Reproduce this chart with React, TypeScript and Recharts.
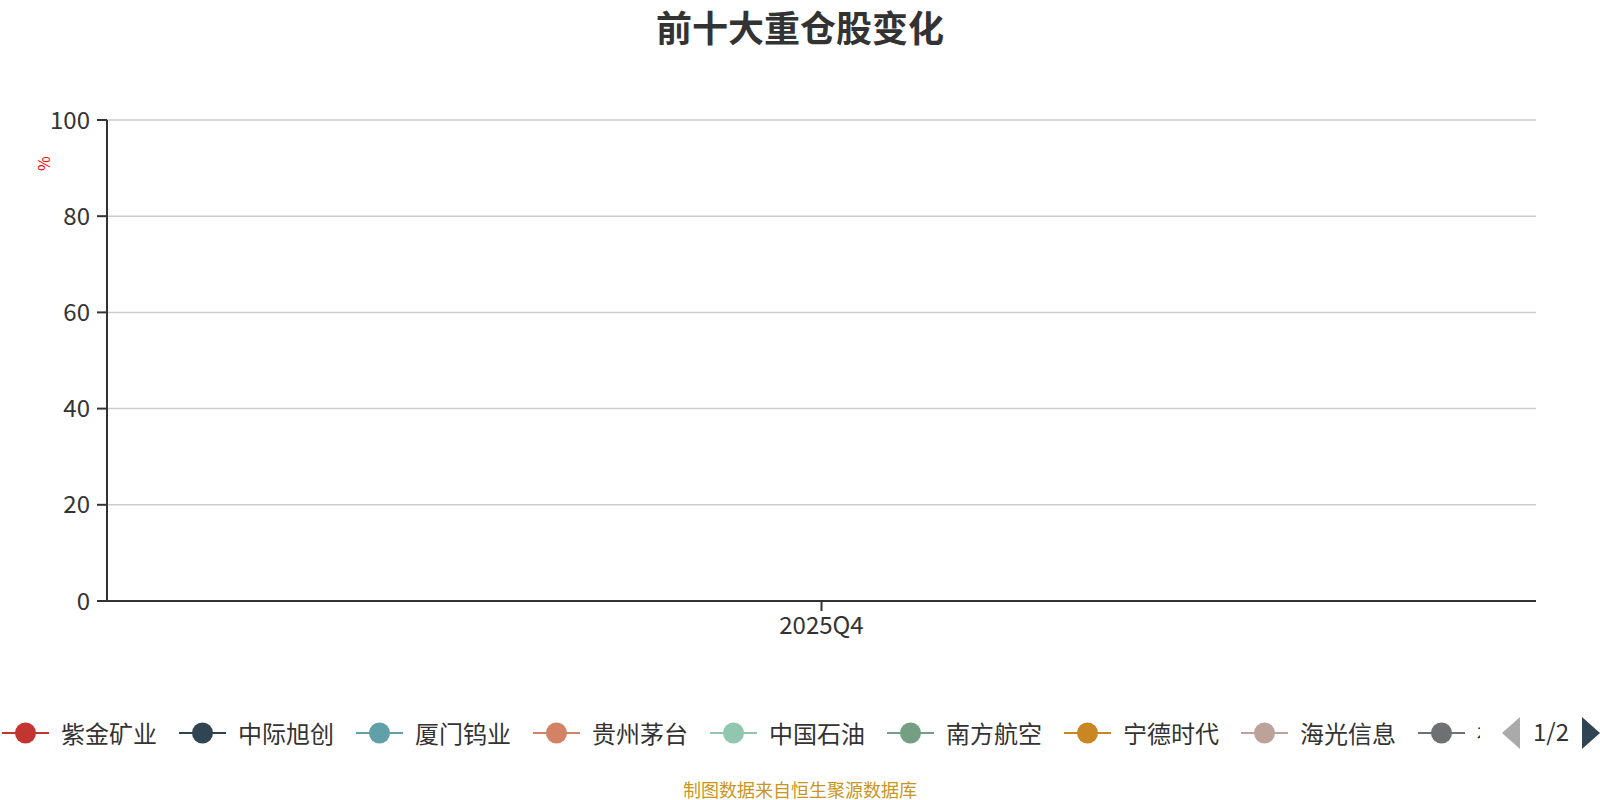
import React from "react";
import { LineChart, Line, XAxis, YAxis, CartesianGrid, Legend } from "recharts";

const quarters = ["2025Q4"];
const stockNames = ["紫金矿业", "中际旭创", "厦门钨业", "贵州茅台", "中国石油", "南方航空", "宁德时代", "海光信息", "福耀玻璃", "神火股份"];
const stockColors = ["#c23531", "#2f4554", "#61a0a8", "#d48265", "#91c7ae", "#749f83", "#ca8622", "#bda29a", "#6e7074", "#546570"];
// holding ratio (%) per quarter, nothing reported yet
const stockValues: (number | null)[][] = [[null], [null], [null], [null], [null], [null], [null], [null], [null], [null]];
const yTicks = [0, 20, 40, 60, 80, 100];

const data = quarters.map((q, i) => {
  const row: Record<string, string | number | null> = { quarter: q };
  stockNames.forEach((name, s) => {
    row[name] = stockValues[s][i];
  });
  return row;
});

const font = "'Microsoft YaHei', 'Noto Sans CJK SC', sans-serif";

function LegendBar() {
  return (
    <div style={{ position: "relative", width: 1600, height: 40, fontFamily: font }}>
      <div style={{ position: "absolute", left: 2, top: 0, width: 1478, height: 40, overflow: "hidden", whiteSpace: "nowrap" }}>
        {stockNames.map((name, i) => (
          <div key={name} style={{ display: "inline-flex", alignItems: "center", height: 40, marginRight: 22 }}>
            <svg width={47} height={22} style={{ marginRight: 12 }}>
              <line x1={0} y1={11} x2={47} y2={11} stroke={stockColors[i]} strokeWidth={2} />
              <circle cx={23.5} cy={11} r={10.5} fill={stockColors[i]} />
            </svg>
            <span style={{ fontSize: 24, color: "#333", lineHeight: "40px" }}>{name}</span>
          </div>
        ))}
      </div>
      <svg width={100} height={40} style={{ position: "absolute", left: 1500, top: 0 }}>
        <polygon points="20,4 20,36 2,20" fill="#aaa" />
        <text x={51} y={28} textAnchor="middle" fontSize={24} fill="#333" fontFamily={font}>1/2</text>
        <polygon points="82,4 82,36 100,20" fill="#2f4554" />
      </svg>
    </div>
  );
}

export default function App() {
  return (
    <div style={{ position: "relative", width: 1600, height: 800, background: "#fff", fontFamily: font }}>
      <style>{"body{margin:0}"}</style>
      <div style={{ position: "absolute", left: 0, top: 8, width: 1600, textAlign: "center", fontSize: 36, lineHeight: "36px", fontWeight: "bold", color: "#333" }}>
        前十大重仓股变化
      </div>
      <LineChart width={1600} height={800} data={data} margin={{ top: 120, right: 64, bottom: 129, left: 47 }}>
        <CartesianGrid horizontal vertical={false} stroke="#ccc" strokeWidth={1.5} />
        <XAxis
          dataKey="quarter"
          height={30}
          stroke="#333"
          strokeWidth={2}
          tickSize={10}
          tick={{ fill: "#333", fontSize: 24, fontFamily: font, dy: 4 }}
        />
        <YAxis
          type="number"
          width={60}
          domain={[0, 100]}
          allowDataOverflow
          ticks={yTicks}
          stroke="#333"
          strokeWidth={2}
          tickSize={10}
          tick={{ fill: "#333", fontSize: 24, fontFamily: font, dx: -5 }}
          label={{ value: "%", angle: -90, position: "insideTopLeft", dx: -13, dy: 46, fill: "red", fontSize: 16 }}
        />
        {stockNames.map((name, i) => (
          <Line key={name} type="linear" dataKey={name} stroke={stockColors[i]} strokeWidth={2} dot={{ r: 5, fill: stockColors[i] }} isAnimationActive={false} />
        ))}
        <Legend content={() => <LegendBar />} wrapperStyle={{ position: "absolute", left: 0, top: 713, width: 1600 }} />
      </LineChart>
      <div style={{ position: "absolute", left: 0, top: 779, width: 1600, textAlign: "center", fontSize: 18, lineHeight: "20px", color: "#c8961e" }}>
        制图数据来自恒生聚源数据库
      </div>
    </div>
  );
}
